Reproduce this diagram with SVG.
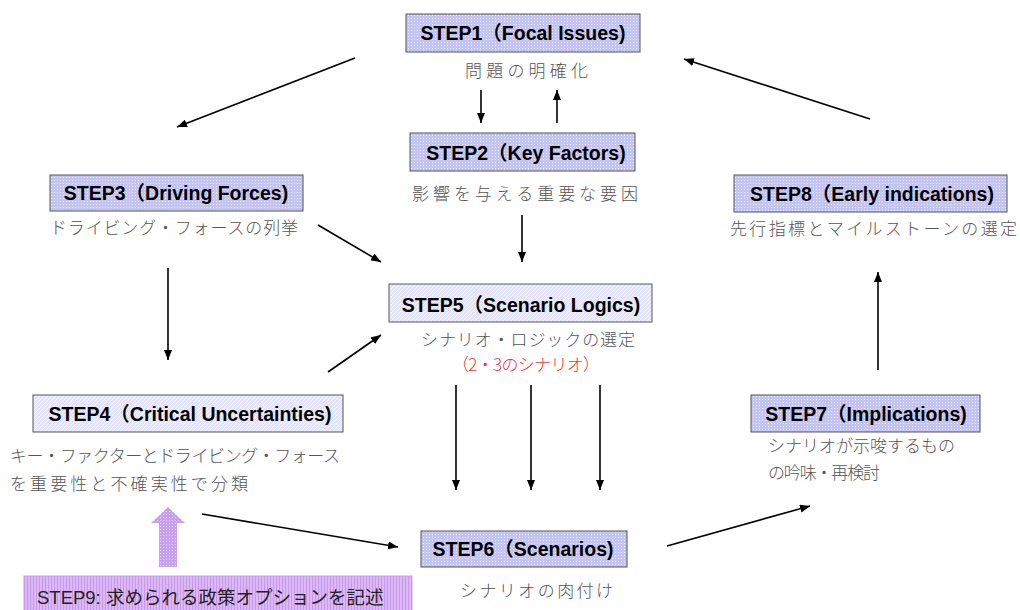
<svg xmlns="http://www.w3.org/2000/svg" width="1020" height="610" viewBox="0 0 1020 610">
  <style>
    .box { stroke: #555; stroke-width: 1; }
    .dot { fill: url(#dotFill); }
    .hatch { fill: url(#hatchFill); }
    .title { font-family: "Liberation Sans", "Noto Sans CJK JP", sans-serif; font-weight: bold; font-size: 19.5px; fill: #000; }
    .sub { font-family: "Noto Sans CJK JP", "Liberation Sans", sans-serif; font-weight: 300; font-size: 17px; fill: #555; }
    .red { fill: #ff3030; }
    .conn { stroke: #000; stroke-width: 1.6; fill: none; marker-end: url(#head); }
  </style>
  <defs>
    <pattern id="dotFill" width="3" height="3" patternUnits="userSpaceOnUse">
      <rect width="3" height="3" fill="#c4c4f2"/>
      <rect x="0" y="0" width="1" height="1" fill="#e8e8ff"/>
    </pattern>
    <pattern id="hatchFill" width="4" height="4" patternUnits="userSpaceOnUse">
      <rect width="4" height="4" fill="#e4e4f8"/>
      <path d="M0,4 L4,0" stroke="#f6f6ff" stroke-width="1"/>
    </pattern>
    <pattern id="stripeFill" width="3" height="4" patternUnits="userSpaceOnUse">
      <rect width="3" height="4" fill="#dcb8f6"/>
      <rect x="0" y="0" width="1" height="4" fill="#c898ee"/>
    </pattern>
    <pattern id="arrowFill" width="3" height="3" patternUnits="userSpaceOnUse">
      <rect width="3" height="3" fill="#c8a0f0"/>
      <rect x="1" y="1" width="1" height="1" fill="#e8d4fa"/>
    </pattern>
    <marker id="head" viewBox="0 0 10 8" refX="10" refY="4" markerWidth="10" markerHeight="8" markerUnits="userSpaceOnUse" orient="auto">
      <path d="M0,0 L10,4 L0,8 z" fill="#000"/>
    </marker>
  </defs>

  <!-- connectors -->
  <g id="connectors">
    <line class="conn" x1="355" y1="58" x2="177" y2="127"/>
    <line class="conn" x1="870" y1="119" x2="684" y2="59"/>
    <line class="conn" x1="481" y1="90" x2="481" y2="123"/>
    <line class="conn" x1="557" y1="123" x2="557" y2="90"/>
    <line class="conn" x1="318" y1="225" x2="381" y2="262"/>
    <line class="conn" x1="522" y1="215" x2="522" y2="262"/>
    <line class="conn" x1="168" y1="268" x2="168" y2="360"/>
    <line class="conn" x1="328" y1="372" x2="381" y2="335"/>
    <line class="conn" x1="456" y1="385" x2="456" y2="490"/>
    <line class="conn" x1="531" y1="385" x2="531" y2="490"/>
    <line class="conn" x1="600" y1="385" x2="600" y2="490" stroke-width="2"/>
    <line class="conn" x1="878" y1="370" x2="878" y2="272"/>
    <line class="conn" x1="202" y1="514" x2="398" y2="547"/>
    <line class="conn" x1="667" y1="546" x2="810" y2="506"/>
    <!-- policy-option arrow -->
    <path d="M168,507 L185,523 L177,523 L177,567 L159,567 L159,523 L151,523 Z" fill="url(#arrowFill)"/>
  </g>

  <g id="step1">
    <rect class="box dot" x="406" y="14" width="234" height="38"/>
    <text class="title" x="523" y="40" text-anchor="middle">STEP1（Focal Issues)</text>
    <text class="sub" x="465" y="77" textLength="123">問題の明確化</text>
  </g>

  <g id="step2">
    <rect class="box dot" x="410" y="133" width="225" height="38"/>
    <text class="title" x="526" y="160" text-anchor="middle">STEP2（Key Factors)</text>
    <text class="sub" x="412" y="200" textLength="226">影響を与える重要な要因</text>
  </g>

  <g id="step3">
    <rect class="box dot" x="50" y="175" width="253" height="36"/>
    <text class="title" x="176" y="200" text-anchor="middle">STEP3（Driving Forces)</text>
    <text class="sub" x="50" y="234" textLength="248">ドライビング・フォースの列挙</text>
  </g>

  <g id="step8">
    <rect class="box dot" x="734" y="175" width="273" height="37"/>
    <text class="title" x="872" y="201" text-anchor="middle">STEP8（Early indications)</text>
    <text class="sub" x="730" y="235" textLength="287">先行指標とマイルストーンの選定</text>
  </g>

  <g id="step5">
    <rect class="box hatch" x="389" y="284" width="263" height="38"/>
    <text class="title" x="521" y="312" text-anchor="middle">STEP5（Scenario Logics)</text>
    <text class="sub" x="421" y="346" textLength="214">シナリオ・ロジックの選定</text>
    <text class="sub red" x="452" y="371" textLength="148">（2・3のシナリオ）</text>
  </g>

  <g id="step4">
    <rect class="box hatch" x="33" y="395" width="310" height="37"/>
    <text class="title" x="190" y="421" text-anchor="middle">STEP4（Critical Uncertainties)</text>
    <text class="sub" x="10" y="462" textLength="330">キー・ファクターとドライビング・フォース</text>
    <text class="sub" x="10" y="490" textLength="238">を重要性と不確実性で分類</text>
  </g>

  <g id="step7">
    <rect class="box dot" x="751" y="395" width="229" height="37"/>
    <text class="title" x="866" y="421" text-anchor="middle">STEP7（Implications)</text>
    <text class="sub" x="768" y="452" textLength="187">シナリオが示唆するもの</text>
    <text class="sub" x="768" y="479" textLength="112">の吟味・再検討</text>
  </g>

  <g id="step6">
    <rect class="box dot" x="421" y="531" width="206" height="36"/>
    <text class="title" x="523" y="556" text-anchor="middle">STEP6（Scenarios)</text>
    <text class="sub" x="460" y="597" textLength="153">シナリオの肉付け</text>
  </g>

  <g id="step9">
    <rect x="24" y="576" width="388" height="40" fill="url(#stripeFill)" stroke="#c8a0f0" stroke-width="1"/>
    <text x="37" y="604" font-family="Liberation Sans, Noto Sans CJK JP, sans-serif" font-size="18.5" fill="#222">STEP9: 求められる政策オプションを記述</text>
  </g>
</svg>
